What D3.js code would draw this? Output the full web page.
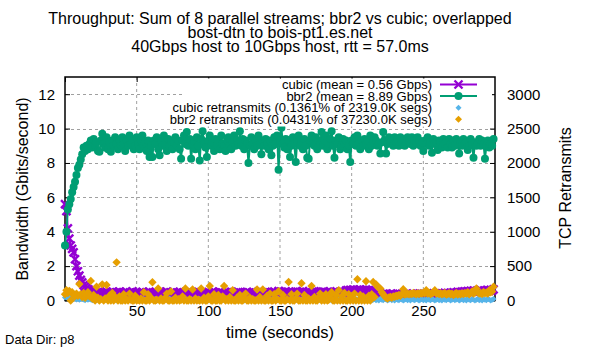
<!DOCTYPE html>
<html>
<head>
<meta charset="utf-8">
<script src="https://cdn.jsdelivr.net/npm/d3@7"></script>
<style>
  body { margin: 0; background: #fff; }
  text { font-family: "Liberation Sans", Arial, sans-serif; }
</style>
</head>
<body>
<div id="grafico"></div>
<script>
// Dados (um valor por segundo, t = 0..299)
const cubic = [
  5.6, 5.2, 4.2, 3.6, 3.2, 3.0, 2.8, 2.4, 2.0, 1.7, 1.45, 1.2, 1.05, 0.9, 0.8, 0.72, 0.65, 0.6, 0.55, 0.5,
  0.45, 0.5, 0.38, 0.42, 0.55, 0.4, 0.35, 0.48, 0.44, 0.52, 0.38, 0.46, 0.4, 0.5, 0.36, 0.44, 0.48, 0.4, 0.52, 0.42,
  0.38, 0.47, 0.43, 0.5, 0.36, 0.45, 0.41, 0.53, 0.39, 0.44, 0.48, 0.37, 0.46, 0.42, 0.5, 0.4, 0.35, 0.47, 0.43, 0.51,
  0.4, 0.45, 0.38, 0.49, 0.42, 0.36, 0.5, 0.44, 0.4, 0.47, 0.39, 0.52, 0.43, 0.37, 0.46, 0.41, 0.49, 0.38, 0.45, 0.42,
  0.5, 0.36, 0.44, 0.48, 0.4, 0.46, 0.35, 0.51, 0.42, 0.39, 0.47, 0.43, 0.37, 0.5, 0.44, 0.4, 0.48, 0.36, 0.45, 0.41,
  0.49, 0.38, 0.44, 0.52, 0.4, 0.46, 0.37, 0.43, 0.5, 0.39, 0.45, 0.42, 0.36, 0.48, 0.44, 0.4, 0.51, 0.38, 0.46, 0.42,
  0.37, 0.49, 0.43, 0.4, 0.47, 0.35, 0.45, 0.5, 0.41, 0.44, 0.38, 0.48, 0.42, 0.46, 0.39, 0.52, 0.43, 0.4, 0.47, 0.44,
  0.5, 0.41, 0.45, 0.38, 0.48, 0.43, 0.52, 0.46, 0.4, 0.55, 0.44, 0.5, 0.47, 0.42, 0.53, 0.45, 0.49, 0.41, 0.51, 0.46,
  0.43, 0.52, 0.47, 0.4, 0.5, 0.45, 0.54, 0.42, 0.48, 0.44, 0.51, 0.46, 0.41, 0.49, 0.53, 0.44, 0.47, 0.5, 0.43, 0.48,
  0.52, 0.45, 0.4, 0.49, 0.46, 0.53, 0.42, 0.47, 0.5, 0.44, 0.48, 0.41, 0.51, 0.45, 0.47, 0.43, 0.58, 0.6, 0.55, 0.62,
  0.57, 0.63, 0.6, 0.55, 0.62, 0.58, 0.64, 0.56, 0.61, 0.59, 0.63, 0.57, 0.6, 0.54, 0.58, 0.52, 0.55, 0.5, 0.48, 0.45,
  0.4, 0.36, 0.38, 0.33, 0.4, 0.35, 0.3, 0.37, 0.34, 0.39, 0.32, 0.36, 0.4, 0.34, 0.31, 0.38, 0.35, 0.33, 0.39, 0.36,
  0.32, 0.37, 0.34, 0.4, 0.35, 0.31, 0.38, 0.36, 0.33, 0.39, 0.35, 0.37, 0.32, 0.4, 0.36, 0.34, 0.38, 0.41, 0.36, 0.39,
  0.35, 0.4, 0.37, 0.42, 0.38, 0.44, 0.4, 0.43, 0.39, 0.45, 0.42, 0.47, 0.43, 0.46, 0.5, 0.44, 0.48, 0.52, 0.47, 0.53,
  0.5, 0.55, 0.49, 0.56, 0.52, 0.58, 0.54, 0.5, 0.57, 0.53, 0.6, 0.55, 0.51, 0.58, 0.54, 0.6, 0.56, 0.62, 0.58, 0.65
];

const bbr2 = [
  3.2, 4.0, 5.3, 5.6, 5.9, 6.3, 6.6, 6.9, 7.3, 7.7, 7.9, 8.2, 8.5, 8.9, 8.7, 9.0, 8.8, 9.1, 9.3, 8.9,
  9.4, 9.0, 9.2, 8.7, 8.65, 9.3, 9.7, 9.1, 8.9, 9.5, 8.8, 9.2, 8.65, 9.3, 9.0, 9.5, 9.1, 8.8, 9.3, 9.0,
  9.5, 9.1, 8.7, 9.3, 9.0, 9.6, 9.1, 9.3, 8.8, 9.0, 9.5, 9.1, 8.8, 9.3, 9.6, 9.0, 9.2, 8.7, 9.3, 8.35,
  9.0, 8.35, 9.3, 9.1, 9.5, 8.8, 8.45, 9.3, 9.0, 9.6, 9.1, 8.7, 9.4, 9.0, 9.3, 8.8, 9.2, 9.5, 9.0, 9.3,
  8.8, 8.25, 9.3, 9.6, 9.1, 9.8, 9.0, 9.4, 8.25, 9.1, 9.3, 8.8, 9.5, 9.0, 8.15, 9.4, 9.85, 9.1, 8.9, 8.35,
  9.3, 9.6, 9.0, 9.2, 8.7, 9.4, 9.0, 9.3, 8.8, 9.6, 9.1, 9.0, 8.7, 9.3, 9.5, 9.0, 8.8, 9.2, 9.6, 9.0,
  9.3, 9.1, 9.85, 9.0, 9.4, 8.8, 9.3, 9.1, 8.0, 9.0, 9.5, 9.1, 8.8, 9.3, 9.0, 9.6, 9.1, 8.5, 9.3, 9.0,
  9.4, 9.1, 8.8, 9.3, 8.45, 9.0, 9.5, 9.1, 9.6, 7.6, 9.3, 10.05, 9.1, 8.9, 9.4, 8.8, 9.3, 8.35, 9.0, 9.5,
  9.1, 8.05, 9.3, 9.6, 9.0, 9.2, 8.8, 9.4, 9.0, 8.3, 8.25, 9.3, 9.6, 9.1, 9.0, 9.5, 8.8, 9.3, 9.1, 9.8,
  9.0, 9.3, 9.6, 8.8, 9.1, 9.4, 9.85, 9.0, 8.3, 9.3, 9.1, 9.5, 8.8, 9.0, 9.4, 9.1, 9.3, 8.8, 9.0, 8.05,
  9.3, 9.1, 9.5, 9.0, 9.6, 9.1, 8.8, 9.3, 9.0, 9.4, 9.1, 9.3, 8.8, 9.6, 9.0, 9.2, 9.5, 9.3, 9.0, 9.1,
  8.55, 9.2, 9.8, 9.3, 8.55, 9.1, 9.5, 9.2, 9.3, 9.0, 9.5, 9.2, 9.4, 9.0, 9.5, 9.2, 9.3, 9.0, 9.2, 9.5,
  9.3, 9.1, 9.5, 9.0, 9.3, 9.2, 9.5, 9.3, 9.0, 9.2, 8.7, 9.3, 9.1, 9.5, 9.0, 9.2, 8.6, 9.4, 9.1, 9.2,
  8.75, 9.3, 9.2, 8.9, 9.4, 9.1, 9.2, 8.9, 9.4, 9.1, 8.9, 9.3, 9.0, 9.4, 9.1, 8.55, 9.2, 9.0, 9.4, 9.1,
  9.2, 8.75, 9.0, 9.4, 9.1, 8.3, 9.2, 9.0, 9.1, 9.4, 9.0, 9.3, 9.1, 8.25, 9.0, 9.3, 8.9, 9.1, 9.0, 9.4
];

const cubicRetrans = [
  45, 60, 30, 55, 25, 40, 20, 35, 15, 30, 10, 25, 20, 15, 5, 20, 10, 25, 15, 5,
  10, 20, 5, 15, 0, 25, 10, 5, 20, 15, 0, 10, 30, 5, 15, 20, 0, 10, 25, 5,
  15, 0, 20, 10, 5, 25, 15, 0, 10, 20, 5, 30, 10, 0, 15, 20, 5, 10, 25, 0,
  10, 15, 5, 20, 0, 10, 25, 5, 15, 0, 20, 10, 5, 30, 15, 0, 10, 20, 5, 15,
  0, 20, 10, 5, 25, 15, 0, 10, 20, 5, 15, 30, 0, 10, 20, 5, 15, 0, 25, 10,
  5, 20, 15, 0, 10, 25, 5, 15, 0, 20, 10, 5, 30, 15, 0, 10, 20, 5, 15, 0,
  20, 10, 5, 25, 15, 0, 10, 20, 5, 15, 0, 30, 10, 5, 20, 15, 0, 10, 25, 5,
  15, 0, 20, 10, 5, 25, 15, 0, 10, 20, 5, 15, 30, 0, 10, 20, 5, 15, 0, 25,
  10, 5, 20, 15, 0, 10, 25, 5, 15, 0, 20, 10, 5, 30, 15, 0, 10, 20, 5, 15,
  0, 20, 10, 5, 25, 15, 0, 10, 20, 5, 15, 0, 30, 10, 5, 20, 15, 0, 10, 25,
  5, 15, 0, 20, 10, 5, 25, 15, 0, 10, 20, 5, 15, 30, 0, 10, 20, 5, 15, 0,
  25, 10, 5, 20, 15, 0, 10, 25, 5, 15, 0, 20, 10, 5, 30, 15, 0, 10, 20, 5,
  15, 0, 20, 10, 5, 25, 15, 0, 10, 20, 5, 15, 0, 30, 10, 5, 20, 15, 0, 10,
  25, 5, 15, 0, 20, 10, 5, 25, 15, 0, 10, 20, 5, 15, 30, 0, 10, 20, 5, 15,
  0, 25, 10, 5, 20, 15, 0, 10, 25, 5, 15, 0, 20, 10, 5, 30, 15, 0, 10, 20
];

const bbr2Retrans = [
  90, 150, 110, 140, 0, 120, 80, 60, 100, 70, 240, 90, 50, 110, 40, 70, 120, 60, 285, 30,
  80, 0, 200, 40, 0, 20, 235, 0, 30, 225, 0, 70, 0, 110, 0, 50, 555, 0, 60, 0,
  0, 90, 0, 20, 0, 100, 10, 0, 0, 70, 0, 10, 0, 30, 0, 120, 0, 0, 90, 0,
  40, 265, 0, 0, 10, 175, 0, 30, 0, 0, 40, 100, 0, 0, 130, 0, 0, 40, 0, 20,
  0, 10, 60, 0, 175, 0, 0, 20, 0, 160, 0, 30, 0, 10, 0, 175, 0, 40, 0, 0,
  60, 210, 0, 0, 90, 0, 0, 80, 0, 0, 60, 210, 0, 20, 0, 50, 0, 150, 0, 0,
  40, 0, 80, 0, 0, 30, 100, 0, 0, 40, 0, 20, 0, 0, 160, 0, 50, 0, 160, 0,
  0, 70, 0, 100, 0, 0, 90, 0, 20, 135, 0, 0, 80, 0, 0, 20, 270, 0, 90, 0,
  0, 30, 100, 0, 0, 250, 0, 80, 0, 0, 30, 0, 210, 0, 50, 0, 0, 40, 100, 0,
  60, 0, 90, 0, 10, 70, 120, 0, 0, 80, 0, 150, 0, 60, 0, 110, 0, 0, 90, 0,
  60, 0, 100, 0, 310, 0, 80, 0, 60, 0, 280, 0, 70, 0, 90, 270, 50, 235, 200, 180,
  175, 120, 90, 60, 40, 30, 45, 50, 40, 60, 55, 70, 65, 80, 70, 90, 165, 85, 95, 100,
  90, 100, 95, 110, 100, 90, 105, 95, 110, 100, 115, 105, 150, 100, 110, 95, 105, 115, 150, 100,
  110, 95, 105, 90, 100, 110, 85, 95, 105, 90, 100, 80, 95, 110, 85, 100, 90, 105, 95, 110,
  100, 120, 90, 110, 130, 100, 115, 175, 120, 100, 110, 95, 125, 105, 115, 100, 150, 120, 130, 200
];

const xTicks  = [0, 50, 100, 150, 200, 250];
const yTicks  = [0, 2, 4, 6, 8, 10, 12];
const y2Ticks = [0, 500, 1000, 1500, 2000, 2500, 3000];

const legendLabels = [
  "cubic (mean = 0.56 Gbps)",
  "bbr2 (mean = 8.89 Gbps)",
  "cubic retransmits (0.1361% of 2319.0K segs)",
  "bbr2 retransmits (0.0431% of 37230.0K segs)"
];
const titleLines = [
  "Throughput: Sum of 8 parallel streams; bbr2 vs cubic; overlapped",
  "bost-dtn to bois-pt1.es.net",
  "40Gbps host to 10Gbps host, rtt = 57.0ms"
];

//Tamanhos e area do grafico
const width = 600, height = 350;
const plot = { left: 65, right: 495, top: 77, bottom: 300.5 };

const colors = { cubic: "#9400d3", bbr2: "#009e73", cubicR: "#56b4e9", bbr2R: "#e69f00" };

const svg = d3.select("#grafico")
              .append("svg")
              .attr("width", width)
              .attr("height", height);

//Escalas
const x  = d3.scaleLinear().domain([0, 300]).range([plot.left, plot.right]);
const y  = d3.scaleLinear().domain([0, 13]).range([plot.bottom, plot.top]);
const y2 = d3.scaleLinear().domain([0, 3250]).range([plot.bottom, plot.top]);

//Linhas de grade
svg.append("g")
   .selectAll("line")
   .data(xTicks.filter(d => d > 0))
   .enter().append("line")
   .attr("x1", d => x(d)).attr("x2", d => x(d))
   .attr("y1", plot.top).attr("y2", plot.bottom)
   .attr("stroke", "#a0a0a0").attr("stroke-dasharray", "3,3");

svg.append("g")
   .selectAll("line")
   .data(yTicks.filter(d => d > 0))
   .enter().append("line")
   .attr("x1", plot.left).attr("x2", plot.right)
   .attr("y1", d => Math.round(y(d)) + 0.5).attr("y2", d => Math.round(y(d)) + 0.5)
   .attr("stroke", "#a0a0a0").attr("stroke-dasharray", "3,3");

//Eixos
const axisFont = g => g.selectAll("text")
                       .attr("font-family", "Liberation Sans, Arial, sans-serif")
                       .attr("font-size", "15px")
                       .attr("fill", "#000");

svg.append("g")
   .attr("transform", `translate(0, ${plot.bottom})`)
   .call(d3.axisBottom(x).tickValues(xTicks).tickSize(-5).tickPadding(5).tickFormat(d => d === 0 ? "" : d))
   .call(g => g.select(".domain").remove())
   .call(axisFont);

svg.append("g")
   .attr("transform", `translate(0, ${plot.top})`)
   .call(d3.axisTop(x).tickValues(xTicks).tickSize(-5).tickFormat(""))
   .call(g => g.select(".domain").remove());

svg.append("g")
   .attr("transform", `translate(${plot.left}, 0)`)
   .call(d3.axisLeft(y).tickValues(yTicks).tickSize(-5).tickPadding(10))
   .call(g => g.select(".domain").remove())
   .call(axisFont);

svg.append("g")
   .attr("transform", `translate(${plot.right}, 0)`)
   .call(d3.axisRight(y2).tickValues(y2Ticks).tickSize(-5).tickPadding(12).tickFormat(d3.format("d")))
   .call(g => g.select(".domain").remove())
   .call(axisFont);

//Moldura
svg.append("rect")
   .attr("x", plot.left).attr("y", plot.top)
   .attr("width", plot.right - plot.left).attr("height", plot.bottom - plot.top)
   .attr("fill", "none").attr("stroke", "#000").attr("stroke-width", 1.5);

//Simbolos
const xMark = "M-4,-4L4,4M-4,4L4,-4";
const diamond = s => `M0,${-s}L${s},0L0,${s}L${-s},0Z`;

//Serie cubic
const linha = d3.line().x((d, i) => x(i)).y(d => y(d));
svg.append("path").datum(cubic)
   .attr("d", linha)
   .attr("fill", "none").attr("stroke", colors.cubic).attr("stroke-width", 2);
svg.append("g").selectAll("path").data(cubic).enter().append("path")
   .attr("transform", (d, i) => `translate(${x(i)},${y(d)})`)
   .attr("d", xMark)
   .attr("stroke", colors.cubic).attr("stroke-width", 2.4).attr("fill", "none");

//Serie bbr2
svg.append("path").datum(bbr2)
   .attr("d", linha)
   .attr("fill", "none").attr("stroke", colors.bbr2).attr("stroke-width", 2);
svg.append("g").selectAll("circle").data(bbr2).enter().append("circle")
   .attr("cx", (d, i) => x(i)).attr("cy", d => y(d)).attr("r", 4)
   .attr("fill", colors.bbr2);

//Retransmissoes
svg.append("g").selectAll("path").data(cubicRetrans).enter().append("path")
   .attr("transform", (d, i) => `translate(${x(i)},${y2(d)})`)
   .attr("d", diamond(3))
   .attr("fill", colors.cubicR);

svg.append("g").selectAll("path").data(bbr2Retrans).enter().append("path")
   .attr("transform", (d, i) => `translate(${x(i)},${y2(d)})`)
   .attr("d", diamond(4.2))
   .attr("fill", colors.bbr2R);

//Legenda
const legend = svg.append("g");
legend.append("rect")
      .attr("x", 184).attr("y", 78.5).attr("width", 308).attr("height", 48)
      .attr("fill", "#fff");
const rowY = i => 84.5 + i * 11.6;
legend.selectAll("text").data(legendLabels).enter().append("text")
      .attr("x", 432).attr("y", (d, i) => rowY(i))
      .attr("dy", "0.35em")
      .attr("text-anchor", "end")
      .attr("font-size", "13px")
      .text(d => d);
legend.append("line").attr("x1", 440).attr("x2", 477).attr("y1", rowY(0)).attr("y2", rowY(0))
      .attr("stroke", colors.cubic).attr("stroke-width", 2);
legend.append("path").attr("transform", `translate(458.5,${rowY(0)})`).attr("d", xMark)
      .attr("stroke", colors.cubic).attr("stroke-width", 2.4);
legend.append("line").attr("x1", 440).attr("x2", 477).attr("y1", rowY(1)).attr("y2", rowY(1))
      .attr("stroke", colors.bbr2).attr("stroke-width", 2);
legend.append("circle").attr("cx", 458.5).attr("cy", rowY(1)).attr("r", 4).attr("fill", colors.bbr2);
legend.append("path").attr("transform", `translate(458.5,${rowY(2)})`).attr("d", diamond(3))
      .attr("fill", colors.cubicR);
legend.append("path").attr("transform", `translate(458.5,${rowY(3)})`).attr("d", diamond(3.5))
      .attr("fill", colors.bbr2R);

//Titulo
svg.append("g").selectAll("text").data(titleLines).enter().append("text")
   .attr("x", (plot.left + plot.right) / 2)
   .attr("y", (d, i) => 24 + i * 14)
   .attr("text-anchor", "middle")
   .attr("font-size", "16px")
   .text(d => d);

//Rotulos dos eixos
svg.append("text")
   .attr("x", (plot.left + plot.right) / 2).attr("y", 338)
   .attr("text-anchor", "middle").attr("font-size", "16.5px")
   .text("time (seconds)");

svg.append("text")
   .attr("transform", "translate(28, 189) rotate(-90)")
   .attr("text-anchor", "middle").attr("font-size", "16px")
   .text("Bandwidth (Gbits/second)");

svg.append("text")
   .attr("transform", "translate(571, 188) rotate(-90)")
   .attr("text-anchor", "middle").attr("font-size", "16px")
   .text("TCP Retransmits");

svg.append("text")
   .attr("x", 5).attr("y", 344)
   .attr("font-size", "13px")
   .text("Data Dir: p8");
</script>
</body>
</html>
